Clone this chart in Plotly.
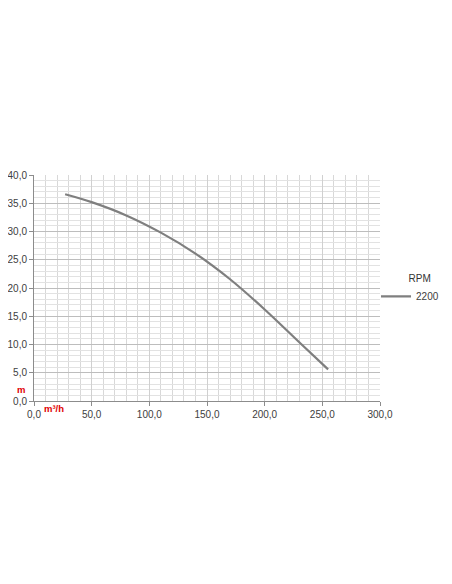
import plotly.graph_objects as go

# pump curve, 2200 RPM (flow m3/h vs head m)
flow = [27, 50, 80, 110, 140, 170, 200, 230, 255]
head = [36.6, 35.2, 32.85, 29.8, 26.1, 21.55, 16.2, 10.4, 5.6]
rpm_label = "2200"

x_ticks = [0, 50, 100, 150, 200, 250, 300]
y_ticks = [0, 5, 10, 15, 20, 25, 30, 35, 40]

fig = go.Figure()
fig.add_trace(go.Scatter(
    x=flow, y=head, mode="lines", name=rpm_label,
    line=dict(color="#7f7f7f", width=2.2, shape="spline", smoothing=1.0),
))

axis_font = dict(family="Liberation Sans, Arial", size=10, color="#404040")

# page body adds 8px, so the figure is 8px smaller than the window
fig.update_layout(
    width=444, height=576,
    margin=dict(l=26, r=72, t=167, b=183, autoexpand=False),
    paper_bgcolor="white", plot_bgcolor="white",
    separators=",.",
    showlegend=True,
    legend=dict(
        title=dict(text="           RPM", side="top",
                   font=dict(family="Liberation Sans, Arial", size=10, color="#333333")),
        x=1.185, y=0.585, xanchor="right", yanchor="top",
        font=axis_font, itemwidth=30, bgcolor="rgba(0,0,0,0)",
        borderwidth=0, tracegroupgap=0,
    ),
)

fig.update_xaxes(
    range=[0, 300], tickvals=x_ticks, tickformat=".1f", automargin=False,
    showgrid=True, gridcolor="#d0d0d0", gridwidth=1,
    minor=dict(dtick=10, showgrid=True, gridcolor="#d8d8d8", ticks=""),
    showline=True, linecolor="#8c8c8c", linewidth=1,
    ticks="outside", ticklen=4, tickcolor="#8c8c8c",
    tickfont=axis_font, zeroline=False, mirror=False,
)
fig.update_yaxes(
    range=[0, 40], tickvals=y_ticks, tickformat=".1f", automargin=False,
    showgrid=True, gridcolor="#bdbdbd", gridwidth=1,
    minor=dict(dtick=1, showgrid=True, gridcolor="#e2e2e2", ticks=""),
    showline=True, linecolor="#8c8c8c", linewidth=1,
    ticks="outside", ticklen=4, tickcolor="#8c8c8c",
    tickfont=axis_font, zeroline=False,
)

# unit labels in red
unit_font = dict(family="Liberation Sans, Arial", size=9.5, color="#e00000")
fig.add_annotation(text="<b>m</b>", xref="paper", yref="paper", x=-0.037, y=0.052,
                   xanchor="center", yanchor="middle", showarrow=False, font=unit_font)
fig.add_annotation(text="<b>m³/h</b>", xref="paper", yref="paper", x=0.058, y=-0.031,
                   xanchor="center", yanchor="middle", showarrow=False, font=unit_font)

fig.write_html("out.html")
